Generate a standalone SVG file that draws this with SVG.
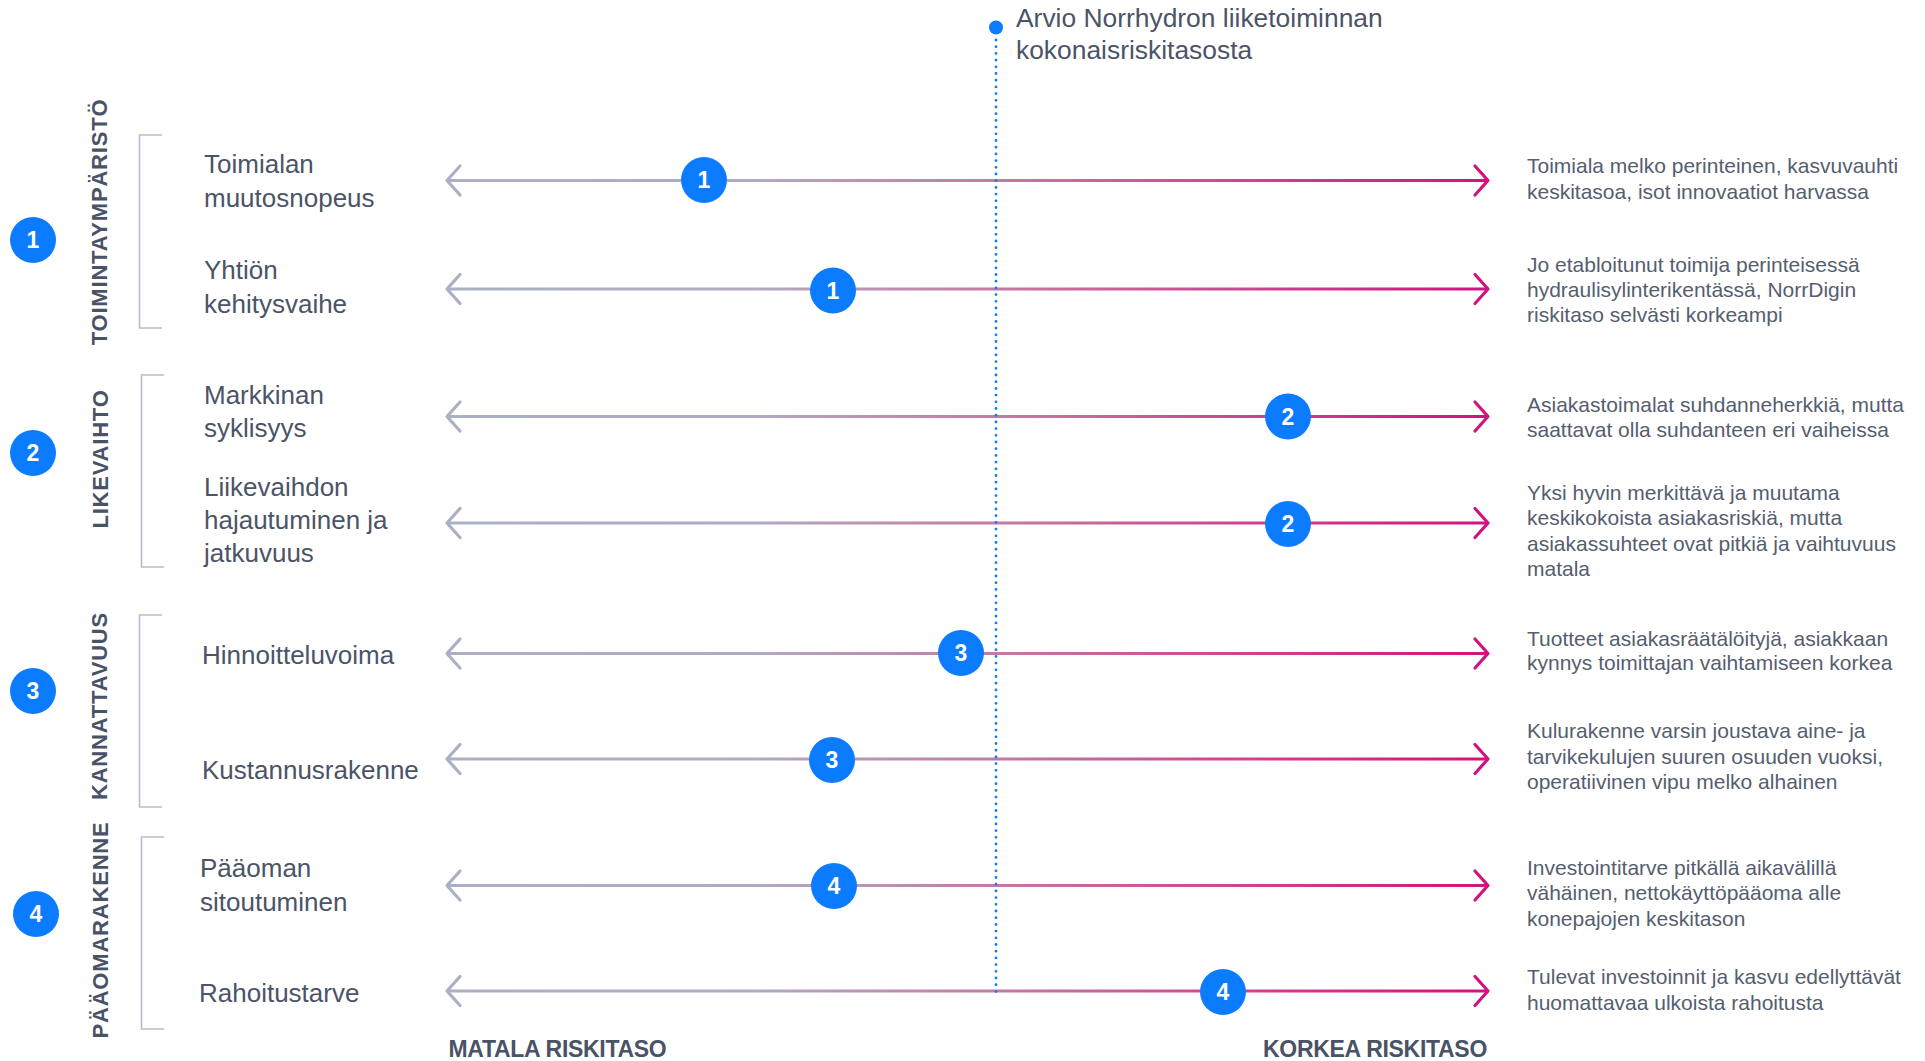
<svg xmlns="http://www.w3.org/2000/svg" xmlns:xlink="http://www.w3.org/1999/xlink" width="1925" height="1061" viewBox="0 0 1925 1061">
<defs>
<linearGradient id="lineGrad" gradientUnits="userSpaceOnUse" x1="446" y1="0" x2="1488" y2="0">
<stop offset="0" stop-color="#abb0c4"/>
<stop offset="0.3" stop-color="#b2a9c2"/>
<stop offset="0.55" stop-color="#c7759f"/>
<stop offset="0.8" stop-color="#d03c8c"/>
<stop offset="1" stop-color="#d2137e"/>
</linearGradient>
<g id="arrow">
<line x1="448" y1="0" x2="1486" y2="0" stroke="url(#lineGrad)" stroke-width="3.2"/>
<polyline points="460,-14.5 447,0 460,14.5" fill="none" stroke="#abb0c4" stroke-width="3.2" stroke-linecap="round" stroke-linejoin="round"/>
<polyline points="1475,-14.5 1488,0 1475,14.5" fill="none" stroke="#d2137e" stroke-width="3.2" stroke-linecap="round" stroke-linejoin="round"/>
</g>
</defs>
<style>
.lbl{font-family:"Liberation Sans",Arial,sans-serif;font-size:26px;fill:#4b5467}
.top{font-family:"Liberation Sans",Arial,sans-serif;font-size:26.4px;fill:#4b5467}
.desc{font-family:"Liberation Sans",Arial,sans-serif;font-size:21px;fill:#555e6f}
.cat{font-family:"Liberation Sans",Arial,sans-serif;font-size:22px;font-weight:bold;fill:#4a5366;letter-spacing:0.8px}
.axis{font-family:"Liberation Sans",Arial,sans-serif;font-size:23px;font-weight:bold;fill:#4a5366;letter-spacing:-0.3px}
.badge{fill:#0b7bff}
.num{font-family:"Liberation Sans",Arial,sans-serif;font-size:23px;font-weight:bold;fill:#ffffff;text-anchor:middle}
.brk{fill:none;stroke:#b9bdcb;stroke-width:1.6}
</style>
<rect width="1925" height="1061" fill="#ffffff"/>

<g id="connectors">
<use xlink:href="#arrow" y="180.5"/>
<use xlink:href="#arrow" y="289"/>
<use xlink:href="#arrow" y="416.5"/>
<use xlink:href="#arrow" y="523"/>
<use xlink:href="#arrow" y="653.5"/>
<use xlink:href="#arrow" y="759"/>
<use xlink:href="#arrow" y="885.5"/>
<use xlink:href="#arrow" y="991"/>
<line id="overall-line" x1="996" y1="40" x2="996" y2="992" stroke="#0b7bff" stroke-width="2.8" stroke-linecap="round" stroke-dasharray="0 6.7"/>
</g>

<g id="overall">
<circle cx="996" cy="27.5" r="7" fill="#0b7bff"/>
<text class="top" x="1016" y="27">Arvio Norrhydron liiketoiminnan</text>
<text class="top" x="1016" y="58.5">kokonaisriskitasosta</text>
</g>

<g id="cat1">
<circle class="badge" cx="33" cy="240" r="23"/>
<text class="num" x="33" y="248">1</text>
<text class="cat" transform="translate(107,222) rotate(-90)" text-anchor="middle">TOIMINTAYMPÄRISTÖ</text>
<polyline class="brk" points="162,135 139.5,135 139.5,328 162,328"/>
</g>
<g id="cat2">
<circle class="badge" cx="33" cy="453" r="23"/>
<text class="num" x="33" y="461">2</text>
<text class="cat" transform="translate(108,459) rotate(-90)" text-anchor="middle">LIKEVAIHTO</text>
<polyline class="brk" points="164,375 141.5,375 141.5,567 164,567"/>
</g>
<g id="cat3">
<circle class="badge" cx="33" cy="691" r="23"/>
<text class="num" x="33" y="699">3</text>
<text class="cat" transform="translate(107,706) rotate(-90)" text-anchor="middle">KANNATTAVUUS</text>
<polyline class="brk" points="162,615 139.5,615 139.5,807 162,807"/>
</g>
<g id="cat4">
<circle class="badge" cx="36" cy="914" r="23"/>
<text class="num" x="36" y="922">4</text>
<text class="cat" transform="translate(108,930) rotate(-90)" text-anchor="middle">PÄÄOMARAKENNE</text>
<polyline class="brk" points="164,837 141.5,837 141.5,1029 164,1029"/>
</g>

<g id="row1">
<text class="lbl" x="204" y="173">Toimialan</text>
<text class="lbl" x="204" y="207">muutosnopeus</text>
<circle class="badge" cx="704" cy="180" r="23"/>
<text class="num" x="704" y="188">1</text>
<text class="desc" x="1527" y="173.3">Toimiala melko perinteinen, kasvuvauhti</text>
<text class="desc" x="1527" y="198.8">keskitasoa, isot innovaatiot harvassa</text>
</g>
<g id="row2">
<text class="lbl" x="204" y="279">Yhtiön</text>
<text class="lbl" x="204" y="312.5">kehitysvaihe</text>
<circle class="badge" cx="833" cy="290.5" r="23"/>
<text class="num" x="833" y="298.5">1</text>
<text class="desc" x="1527" y="271.7">Jo etabloitunut toimija perinteisessä</text>
<text class="desc" x="1527" y="296.7">hydraulisylinterikentässä, NorrDigin</text>
<text class="desc" x="1527" y="321.7">riskitaso selvästi korkeampi</text>
</g>
<g id="row3">
<text class="lbl" x="204" y="404">Markkinan</text>
<text class="lbl" x="204" y="437">syklisyys</text>
<circle class="badge" cx="1288" cy="416.5" r="23"/>
<text class="num" x="1288" y="424.5">2</text>
<text class="desc" x="1527" y="411.7">Asiakastoimalat suhdanneherkkiä, mutta</text>
<text class="desc" x="1527" y="437.3">saattavat olla suhdanteen eri vaiheissa</text>
</g>
<g id="row4">
<text class="lbl" x="204" y="495.7">Liikevaihdon</text>
<text class="lbl" x="204" y="528.5">hajautuminen ja</text>
<text class="lbl" x="204" y="561.7">jatkuvuus</text>
<circle class="badge" cx="1288" cy="524" r="23"/>
<text class="num" x="1288" y="532">2</text>
<text class="desc" x="1527" y="500">Yksi hyvin merkittävä ja muutama</text>
<text class="desc" x="1527" y="525.3">keskikokoista asiakasriskiä, mutta</text>
<text class="desc" x="1527" y="550.7">asiakassuhteet ovat pitkiä ja vaihtuvuus</text>
<text class="desc" x="1527" y="576">matala</text>
</g>
<g id="row5">
<text class="lbl" x="202" y="664">Hinnoitteluvoima</text>
<circle class="badge" cx="961" cy="653" r="23"/>
<text class="num" x="961" y="661">3</text>
<text class="desc" x="1527" y="645.7">Tuotteet asiakasräätälöityjä, asiakkaan</text>
<text class="desc" x="1527" y="670.3">kynnys toimittajan vaihtamiseen korkea</text>
</g>
<g id="row6">
<text class="lbl" x="202" y="779">Kustannusrakenne</text>
<circle class="badge" cx="832" cy="760" r="23"/>
<text class="num" x="832" y="768">3</text>
<text class="desc" x="1527" y="738.3">Kulurakenne varsin joustava aine- ja</text>
<text class="desc" x="1527" y="764">tarvikekulujen suuren osuuden vuoksi,</text>
<text class="desc" x="1527" y="789">operatiivinen vipu melko alhainen</text>
</g>
<g id="row7">
<text class="lbl" x="200" y="876.7">Pääoman</text>
<text class="lbl" x="200" y="910.7">sitoutuminen</text>
<circle class="badge" cx="834" cy="886" r="23"/>
<text class="num" x="834" y="894">4</text>
<text class="desc" x="1527" y="875">Investointitarve pitkällä aikavälillä</text>
<text class="desc" x="1527" y="900.3">vähäinen, nettokäyttöpääoma alle</text>
<text class="desc" x="1527" y="925.7">konepajojen keskitason</text>
</g>
<g id="row8">
<text class="lbl" x="199" y="1001.7">Rahoitustarve</text>
<circle class="badge" cx="1223" cy="992" r="23"/>
<text class="num" x="1223" y="1000">4</text>
<text class="desc" x="1527" y="984.3">Tulevat investoinnit ja kasvu edellyttävät</text>
<text class="desc" x="1527" y="1010">huomattavaa ulkoista rahoitusta</text>
</g>

<g id="axis-labels">
<text class="axis" x="448.5" y="1057">MATALA RISKITASO</text>
<text class="axis" x="1487" y="1057" text-anchor="end">KORKEA RISKITASO</text>
</g>
</svg>
